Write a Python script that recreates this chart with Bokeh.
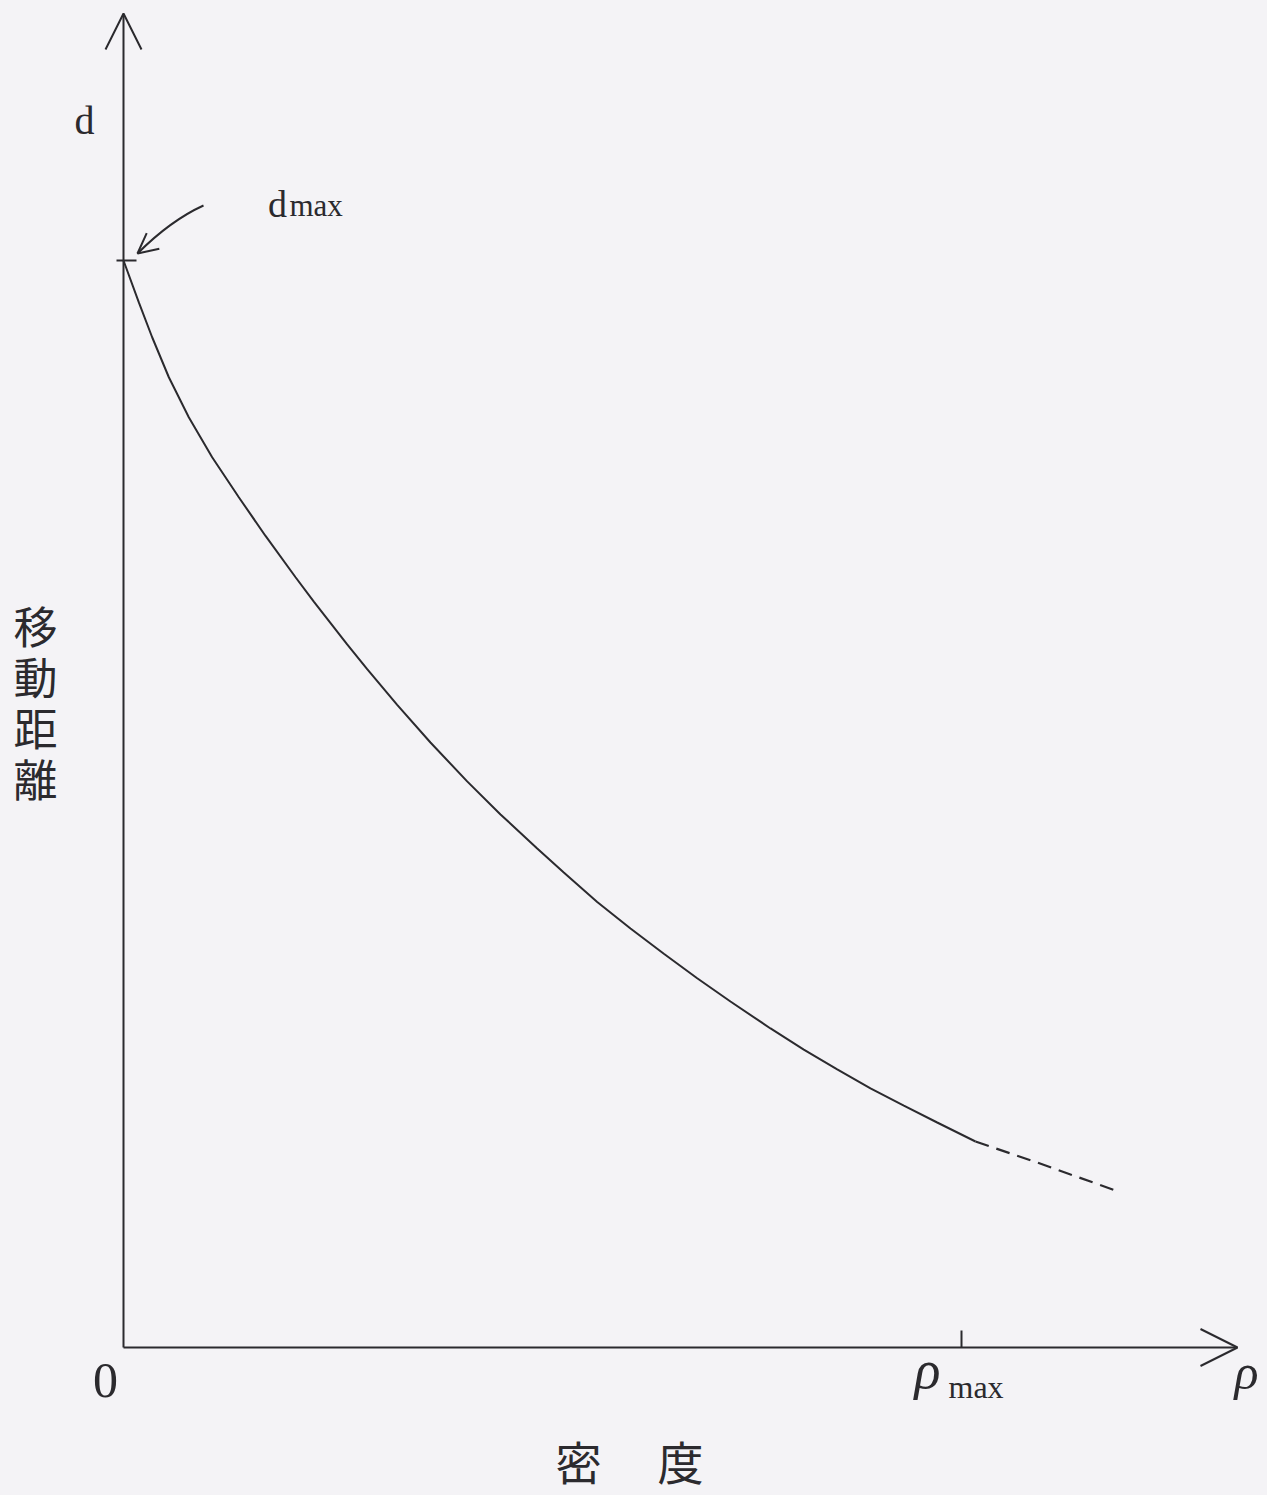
from bokeh.plotting import figure
from bokeh.models import Range1d, Arrow, OpenHead
from bokeh.embed import file_html
from bokeh.resources import INLINE
from bokeh.core.properties import value

# ---- data (rho relative to rho_max, d relative to d_max) ----
rho_solid = [0.0, 0.0183, 0.0342, 0.0541, 0.0779, 0.1058, 0.1376, 0.1695, 0.2053, 0.2271,
             0.2669, 0.2908, 0.3266, 0.3663, 0.4101, 0.4499, 0.4937, 0.5254, 0.5653, 0.6050,
             0.6448, 0.6846, 0.7243, 0.7721, 0.8118, 0.8517, 0.8914, 0.9312, 0.9710, 1.0167]
d_solid = [1.0, 0.9614, 0.9294, 0.8926, 0.8558, 0.8190, 0.7822, 0.7466, 0.7086, 0.6862,
           0.6468, 0.6240, 0.5912, 0.5566, 0.5208, 0.4904, 0.4591, 0.4370, 0.4099, 0.3855,
           0.3622, 0.3397, 0.3183, 0.2935, 0.2741, 0.2558, 0.2383, 0.2226, 0.2070, 0.1895]
rho_dashed = [1.0167, 1.0903, 1.1301, 1.1838]
d_dashed = [0.1895, 0.1702, 0.1592, 0.1444]
rho_max = 1.0
d_max = 1.0
y_label_chars = ["移", "動", "距", "離"]
x_label_chars = ["密", "度"]

BG = "#f4f3f6"
INK = "#2b2a2e"
W, H = 1262, 1492
SX, SY = 838.0, 1087.0          # px per unit
OX, OY = 123.0, 1347.0          # origin in figure px (from top-left)

x0 = -OX / SX
x1 = (W - OX) / SX
y1 = OY / SY
y0 = -(H - OY) / SY

def X(px_):  # figure pixel column -> data x
    return (px_ - OX) / SX

def Y(py_):  # figure pixel row -> data y
    return (OY - py_) / SY

p = figure(width=W, height=H, x_range=Range1d(x0, x1), y_range=Range1d(y0, y1),
           output_backend="svg", toolbar_location=None,
           x_axis_location=None, y_axis_location=None,
           min_border=0, background_fill_color=BG, border_fill_color=BG,
           outline_line_color=None)
p.grid.visible = False

# axes with open arrow heads
p.add_layout(Arrow(end=OpenHead(size=36, line_color=INK, line_width=2),
                   x_start=0, y_start=0, x_end=0, y_end=Y(13),
                   line_color=INK, line_width=2))
p.add_layout(Arrow(end=OpenHead(size=37, line_color=INK, line_width=2),
                   x_start=0, y_start=0, x_end=X(1237), y_end=0,
                   line_color=INK, line_width=2))

# ticks at d_max and rho_max
p.segment(x0=[X(OX - 7)], y0=[d_max], x1=[X(OX + 13)], y1=[d_max], line_color=INK, line_width=2)
p.segment(x0=[rho_max], y0=[0], x1=[rho_max], y1=[Y(OY - 17)], line_color=INK, line_width=2)

# curve
p.line(rho_solid, d_solid, line_color=INK, line_width=2)
p.line(rho_dashed, d_dashed, line_color=INK, line_width=2.2, line_dash="14 8")

# curved pointer to d_max
p.quadratic(x0=[X(203)], y0=[Y(205)], x1=[X(137)], y1=[Y(253)],
            cx=[X(170)], cy=[Y(220)], line_color=INK, line_width=2)
p.add_layout(Arrow(end=OpenHead(size=20, line_color=INK, line_width=2),
                   x_start=X(153), y_start=Y(240),
                   x_end=X(137), y_end=Y(253), line_alpha=0))

serif = value("Liberation Serif")
def lab(x, y, t, size, align="center", style="normal"):
    p.text(x=[x], y=[y], text=[t], text_font=serif, text_font_style=style,
           text_font_size=f"{size}px", text_align=align, text_baseline="middle",
           text_color=INK)

lab(X(84), Y(120), "d", 40)
lab(X(277), Y(203), "d", 38)
lab(X(289), Y(205), "max", 31, align="left")
lab(X(105), Y(1380), "0", 50)
lab(X(927), Y(1369), "ρ", 54, style="italic")
lab(X(948), Y(1386), "max", 32, align="left")
lab(X(1246), Y(1371), "ρ", 50, style="italic")

cjk = value("Noto Sans CJK JP")
ys = [Y(624 + i * 51) for i in range(len(y_label_chars))]
p.text(x=[X(35)] * len(y_label_chars), y=ys, text=y_label_chars, text_font=cjk,
       text_font_size="44px", text_align="center", text_baseline="middle", text_color=INK)
xs = [X(578 + i * 102) for i in range(len(x_label_chars))]
p.text(x=xs, y=[Y(1459)] * len(x_label_chars), text=x_label_chars, text_font=cjk,
       text_font_size="46px", text_align="center", text_baseline="middle", text_color=INK)

html = file_html(p, INLINE)
html = html.replace("<head>", "<head><style>html,body{background:%s;}</style>" % BG, 1)
open("out.html", "w").write(html)
